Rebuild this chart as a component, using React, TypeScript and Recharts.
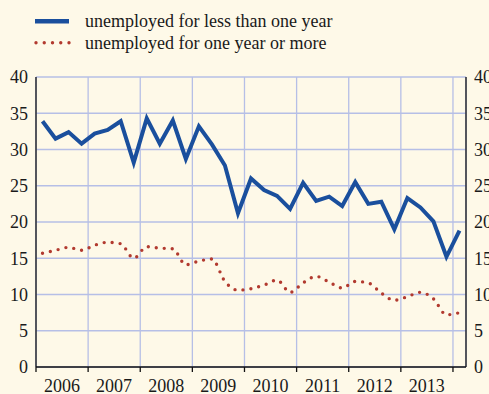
import React from 'react';
import { LineChart, Line, XAxis, YAxis, CartesianGrid, Legend } from 'recharts';

const years = ['2006', '2007', '2008', '2009', '2010', '2011', '2012', '2013'];

// quarterly values, 2006 Q1 .. 2014 Q1
const shortTerm = [
  33.9, 31.5, 32.4, 30.8,
  32.2, 32.7, 33.9, 28.2,
  34.3, 30.8, 34.0, 28.7,
  33.2, 30.7, 27.8, 21.2,
  26.0, 24.4, 23.6, 21.8,
  25.4, 22.9, 23.5, 22.2,
  25.5, 22.5, 22.8, 19.0,
  23.3, 22.0, 20.1, 15.2,
  18.8,
];

const longTerm = [
  15.7, 16.1, 16.5, 16.1,
  16.8, 17.2, 17.0, 15.0,
  16.6, 16.4, 16.3, 14.1,
  14.6, 14.9, 11.8, 10.6,
  10.8, 11.3, 12.0, 10.3,
  11.6, 12.5, 11.7, 10.9,
  11.8, 11.6, 10.2, 9.2,
  9.7, 10.3, 9.4, 7.2,
  7.5,
];

const seriesNames = ['unemployed for less than one year', 'unemployed for one year or more'];
const yTicks = [0, 5, 10, 15, 20, 25, 30, 35, 40];
const yearBoundaries = [0, 4, 8, 12, 16, 20, 24, 28, 32];

const data = shortTerm.map((v, i) => ({ q: i + 0.5, shortTerm: v, longTerm: longTerm[i] }));

const FONT = "'Liberation Serif', 'Times New Roman', serif";
const BLUE = '#1a4f9d';
const RED = '#b23a2f';
const GRID = '#b6bfe6';
const BG = '#fef9e8';

const YearTick = (props: any) => {
  const { x, y, payload } = props;
  const idx = Math.round(payload.value / 4);
  const label = years[idx];
  if (!label) return null;
  return (
    <text x={x + 26} y={y + 5} dy="0.71em" textAnchor="middle" fontSize={18} fontFamily={FONT} fill="#1a1a1a">
      {label}
    </text>
  );
};

const LegendContent = (props: any) => {
  const payload = props.payload || [];
  return (
    <div style={{ width: 489, height: 60 }}>
      <svg width={489} height={60}>
        {payload.map((entry: any, i: number) => {
          const cy = i === 0 ? 21.3 : 42.7;
          const base = i === 0 ? 27.3 : 48.8;
          return (
            <g key={i}>
              {i === 0 ? (
                <line x1={35} x2={69} y1={cy} y2={cy} stroke={entry.color} strokeWidth={4.5} />
              ) : (
                <line x1={36} x2={70} y1={cy} y2={cy} stroke={entry.color} strokeWidth={3.4}
                  strokeDasharray="0 8.25" strokeLinecap="round" />
              )}
              <text x={85} y={base} fontSize={18} fontFamily={FONT} fill="#1a1a1a">{entry.value}</text>
            </g>
          );
        })}
      </svg>
    </div>
  );
};

export default function App() {
  return (
    <div style={{ position: 'fixed', left: 0, top: 0, width: 489, height: 394, background: BG }}>
      <LineChart width={489} height={394} data={data} margin={{ top: 17, right: 0, bottom: 0, left: 0 }}>
        <CartesianGrid yAxisId="left" stroke={GRID} strokeWidth={1.3} />
        <XAxis
          dataKey="q"
          type="number"
          domain={[0, 33]}
          ticks={yearBoundaries}
          interval={0}
          height={27}
          tickSize={5}
          tickMargin={2}
          axisLine={{ stroke: '#111', strokeWidth: 1.3 }}
          tickLine={{ stroke: '#111', strokeWidth: 1.3 }}
          tick={<YearTick />}
        />
        <YAxis
          yAxisId="left"
          domain={[0, 40]}
          ticks={yTicks}
          interval={0}
          width={36}
          tickLine={false}
          axisLine={{ stroke: '#111', strokeWidth: 1.3 }}
          tick={{ fontSize: 18, fontFamily: FONT, fill: '#1a1a1a' }}
        />
        <YAxis
          yAxisId="right"
          orientation="right"
          domain={[0, 40]}
          ticks={yTicks}
          interval={0}
          width={23}
          tickLine={false}
          axisLine={{ stroke: '#111', strokeWidth: 1.3 }}
          tick={{ fontSize: 18, fontFamily: FONT, fill: '#1a1a1a' }}
        />
        <Legend
          verticalAlign="top"
          align="left"
          layout="horizontal"
          wrapperStyle={{ top: 0, left: 0, width: 489, height: 60 }}
          content={<LegendContent />}
        />
        <Line
          yAxisId="left"
          type="linear"
          dataKey="shortTerm"
          name={seriesNames[0]}
          stroke={BLUE}
          strokeWidth={4}
          dot={false}
          activeDot={false}
          isAnimationActive={false}
        />
        <Line
          yAxisId="right"
          type="monotone"
          dataKey="longTerm"
          name={seriesNames[1]}
          stroke={RED}
          strokeWidth={3.4}
          strokeDasharray="0 8"
          strokeLinecap="round"
          dot={false}
          activeDot={false}
          isAnimationActive={false}
        />
      </LineChart>
    </div>
  );
}
